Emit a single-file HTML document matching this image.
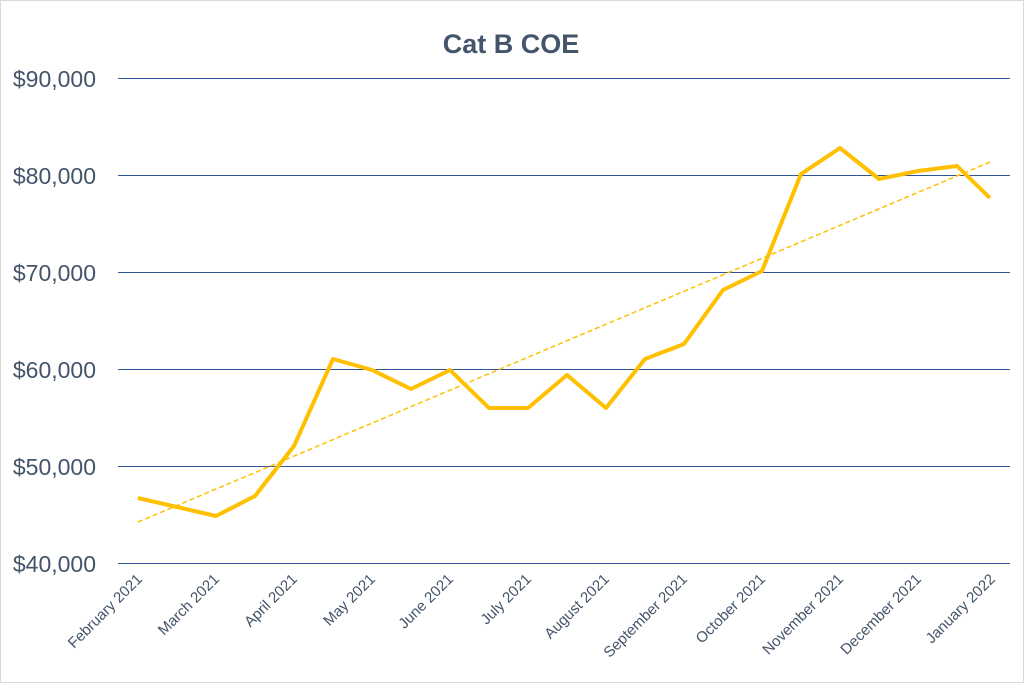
<!DOCTYPE html>
<html><head><style>
html,body{margin:0;padding:0;background:#fff;}
svg{display:block;}
text{font-family:"Liberation Sans",sans-serif;fill:#44546a;}
</style></head><body>
<svg width="1024" height="683" viewBox="0 0 1024 683">
<rect x="0.5" y="0.5" width="1023" height="682" fill="#fff" stroke="#d9d9d9"/>
<text x="511" y="53" text-anchor="middle" font-size="27" font-weight="bold">Cat B COE</text>
<g stroke="#2f5597" stroke-width="1">
<line x1="118" y1="78.5" x2="1010" y2="78.5"/>
<line x1="118" y1="175.5" x2="1010" y2="175.5"/>
<line x1="118" y1="272.5" x2="1010" y2="272.5"/>
<line x1="118" y1="369.5" x2="1010" y2="369.5"/>
<line x1="118" y1="466.5" x2="1010" y2="466.5"/>
<line x1="118" y1="563.5" x2="1010" y2="563.5"/>
</g>
<g font-size="23" text-anchor="end">
<text x="96" y="87">$90,000</text>
<text x="96" y="184">$80,000</text>
<text x="96" y="281">$70,000</text>
<text x="96" y="378">$60,000</text>
<text x="96" y="475">$50,000</text>
<text x="96" y="572">$40,000</text>
</g>
<line x1="138" y1="522" x2="990" y2="162" stroke="#ffc000" stroke-width="1.5" stroke-dasharray="5,3"/>
<polyline fill="none" stroke="#ffc000" stroke-width="4" stroke-linejoin="round" points="138,498 177,507 216,516 255,496 294,446 333,359 372,370 411,389 450,370 489,408 528,408 567,375 606,408 645,359 684,344 723,290 762,271 801,174 840,148 879,179 918,171 957,166 990,198"/>
<g font-size="15" text-anchor="end">
<text transform="translate(143,580) rotate(-45)">February 2021</text>
<text transform="translate(220,580) rotate(-45)">March 2021</text>
<text transform="translate(298,580) rotate(-45)">April 2021</text>
<text transform="translate(376,580) rotate(-45)">May 2021</text>
<text transform="translate(454,580) rotate(-45)">June 2021</text>
<text transform="translate(532,580) rotate(-45)">July 2021</text>
<text transform="translate(610,580) rotate(-45)">August 2021</text>
<text transform="translate(688,580) rotate(-45)">September 2021</text>
<text transform="translate(766,580) rotate(-45)">October 2021</text>
<text transform="translate(844,580) rotate(-45)">November 2021</text>
<text transform="translate(922,580) rotate(-45)">December 2021</text>
<text transform="translate(996,580) rotate(-45)">January 2022</text>
</g>
</svg>
</body></html>
